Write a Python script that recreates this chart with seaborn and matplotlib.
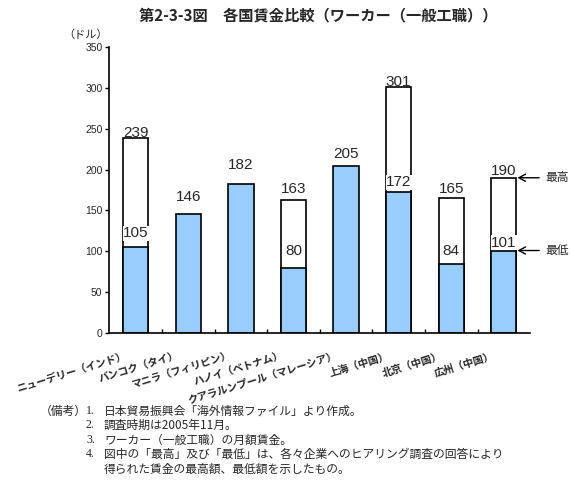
"""
第2-3-3図 各国賃金比較（ワーカー（一般工職））
"""

import numpy as np
import pandas as pd
import matplotlib
matplotlib.use("Agg")
import matplotlib.pyplot as plt
import matplotlib.transforms as mtransforms
import seaborn as sns

# ── data ──────────────────────────────────────────────────────────────────────
cities = ["ニューデリー（インド）", "バンコク（タイ）", "マニラ（フィリピン）",
          "ハノイ（ベトナム）", "クアラルンプール（マレーシア）",
          "上海（中国）", "北京（中国）", "広州（中国）"]
wage_high = [239, np.nan, np.nan, 163, np.nan, 301, 165, 190]
wage_low = [105, 146, 182, 80, 205, 172, 84, 101]
y_ticks = [0, 50, 100, 150, 200, 250, 300, 350]
notes = [
    ("（備考）", "1.", "日本貿易振興会「海外情報ファイル」より作成。"),
    ("", "2.", "調査時期は2005年11月。"),
    ("", "3.", "ワーカー（一般工職）の月額賃金。"),
    ("", "4.", "図中の「最高」及び「最低」は、各々企業へのヒアリング調査の回答により"),
    ("", "", "得られた賃金の最高額、最低額を示したもの。"),
]

# label gaps above bar tops (px) — layout only
gap_high = [1, 0, 0, 7, 0, 1, 5, 3]
gap_low = [10, 13, 15, 13, 8, 6, 9, 4]

BLUE = "#99CCFF"
JP = ["Noto Sans CJK JP", "DejaVu Sans"]
NUM = ["Liberation Sans Narrow", "Liberation Sans", "DejaVu Sans"]
SERIF = ["Liberation Serif", "Noto Sans CJK JP"]

sns.set_theme(style="white")
plt.rcParams["font.family"] = JP

df = pd.DataFrame({"city": cities, "high": wage_high, "low": wage_low})

fig = plt.figure(figsize=(5.70, 4.82), dpi=100)
ax = fig.add_axes([0.192, 0.309, 0.738, 0.5935])

sns.barplot(data=df, x="city", y="high", order=cities, color="white",
            saturation=1, width=0.48, edgecolor="black", linewidth=1.2,
            errorbar=None, ax=ax)
sns.barplot(data=df, x="city", y="low", order=cities, color=BLUE,
            saturation=1, width=0.48, edgecolor="black", linewidth=1.2,
            errorbar=None, ax=ax)

px = fig.dpi_scale_trans
for i, (hi, lo) in enumerate(zip(wage_high, wage_low)):
    has_hi = not np.isnan(hi)
    if has_hi:
        ax.text(i, hi, f"{hi:.0f}", ha="center", va="baseline", fontsize=11,
                family=NUM, zorder=5,
                transform=ax.transData + mtransforms.ScaledTranslation(0, gap_high[i] / 100, px))
    box = dict(facecolor="white", edgecolor="none", pad=0.2) if has_hi else None
    ax.text(i, lo, f"{lo}", ha="center", va="baseline", fontsize=11,
            family=NUM, zorder=5, bbox=box,
            transform=ax.transData + mtransforms.ScaledTranslation(0, gap_low[i] / 100, px))

# 最高 / 最低 markers on the last bar
last = len(cities) - 1
for val, lab in [(wage_high[last], "最高"), (wage_low[last], "最低")]:
    ax.annotate(lab, xy=(last + 0.26, val), xytext=(20, 0),
                textcoords="offset points", va="center", ha="left", fontsize=8.5,
                annotation_clip=False,
                arrowprops=dict(arrowstyle="->,head_length=0.55,head_width=0.3",
                                color="black", lw=1.0, shrinkA=2, shrinkB=0))

ax.set_xlim(-0.5, len(cities) - 0.5)
ax.set_ylim(0, 350)
ax.set_yticks(y_ticks)
ax.set_yticklabels([str(t) for t in y_ticks], family=NUM, fontsize=7.5)
ax.set_xticks(range(len(cities)))
ax.set_xticklabels([])
ax.tick_params(axis="x", which="major", length=0)
ax.set_xticks(np.arange(0.5, len(cities) - 0.5, 1), minor=True)
ax.tick_params(axis="x", which="minor", direction="in", length=3, width=1, color="black", bottom=True)
ax.tick_params(axis="y", direction="out", length=3, width=1, color="black", left=True, pad=2)
ax.set_xlabel("")
ax.set_ylabel("")
for side in ["top", "right"]:
    ax.spines[side].set_visible(False)
for side in ["left", "bottom"]:
    ax.spines[side].set_color("black")
    ax.spines[side].set_linewidth(1.2)

# rotated category labels
for i, name in enumerate(cities):
    ax.text(i, 0, name, rotation=17, rotation_mode="anchor", ha="right", va="top",
            fontsize=7.5, fontweight="bold",
            transform=ax.get_xaxis_transform() + mtransforms.ScaledTranslation(-0.11, -0.18, px))

fig.text(0.558, 1 - 15 / 482, "第2-3-3図　各国賃金比較（ワーカー（一般工職））",
         ha="center", va="center", fontsize=11, fontweight="bold")
fig.text(86 / 570, 1 - 35 / 482, "（ドル）", ha="center", va="center", fontsize=8)

line_y = [411, 425, 440, 454, 469]
for (head, num, body), y in zip(notes, line_y):
    yy = 1 - y / 482
    if head:
        fig.text(40 / 570, yy, head, ha="left", va="center", fontsize=8.5)
    if num:
        fig.text(86 / 570, yy, num, ha="left", va="center", fontsize=8.5, family=SERIF)
    fig.text(104 / 570, yy, body, ha="left", va="center", fontsize=8.5)

plt.savefig("out.png", dpi=100)
plt.close()
